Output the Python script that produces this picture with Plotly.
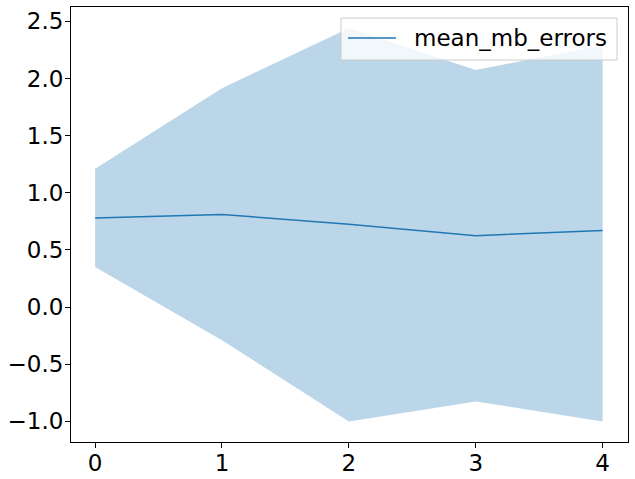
import plotly.graph_objects as go

steps = [0, 1, 2, 3, 4]
mean_mb_errors = [0.78, 0.81, 0.725, 0.625, 0.67]
upper_band = [1.21, 1.915, 2.44, 2.075, 2.29]
lower_band = [0.35, -0.29, -1.0, -0.825, -1.0]
y_ticks = [-1.0, -0.5, 0.0, 0.5, 1.0, 1.5, 2.0, 2.5]
series_name = "mean_mb_errors"

line_color = "#1f77b4"
fill_color = "rgba(31,119,180,0.3)"

# plot area in pixels: x 71..628, y 7..442
L, R, T, B = 71, 628, 7, 442
W, H = 635, 479


def px_x(p):
    return (p - L) / (R - L)


def px_y(p):
    return (B - p) / (B - T)


fig = go.Figure()
fig.add_trace(go.Scatter(x=steps, y=upper_band, mode="lines", line=dict(width=0),
                         showlegend=False, hoverinfo="skip"))
fig.add_trace(go.Scatter(x=steps, y=lower_band, mode="lines", line=dict(width=0),
                         fill="tonexty", fillcolor=fill_color, showlegend=False, hoverinfo="skip"))
fig.add_trace(go.Scatter(x=steps, y=mean_mb_errors, mode="lines", name=series_name,
                         line=dict(color=line_color, width=1.5), showlegend=False))

axis_style = dict(showgrid=False, zeroline=False, showline=True, linecolor="black", linewidth=1,
                  mirror=True, ticks="outside", ticklen=5, tickcolor="black", automargin=False,
                  tickfont=dict(size=23, color="black"))

# matplotlib-like legend box drawn by hand
fig.add_shape(type="rect", xref="paper", yref="paper",
              x0=px_x(341), x1=px_x(617), y0=px_y(60), y1=px_y(18),
              fillcolor="rgba(255,255,255,0.8)", line=dict(color="#cccccc", width=1))
fig.add_shape(type="line", xref="paper", yref="paper",
              x0=px_x(348), x1=px_x(396), y0=px_y(38), y1=px_y(38),
              line=dict(color=line_color, width=1.5))
fig.add_annotation(xref="paper", yref="paper", x=px_x(412), y=px_y(38),
                   xanchor="left", yanchor="middle", text=series_name, showarrow=False,
                   font=dict(size=23, color="black"))

fig.update_layout(
    width=W, height=H,
    margin=dict(l=L, r=W - R, t=T, b=H - B),
    plot_bgcolor="white", paper_bgcolor="white",
    font=dict(family="DejaVu Sans", size=23, color="black"),
    xaxis=dict(range=[-0.19, 4.2], tickvals=steps, ticklabelstandoff=-5, **axis_style),
    yaxis=dict(range=[-1.18, 2.625], tickvals=y_ticks, tickformat=".1f",
               ticklabelstandoff=-3, **axis_style),
)

fig.write_html("out.html", config={"displayModeBar": False},
               post_script="document.body.style.margin='0';")
